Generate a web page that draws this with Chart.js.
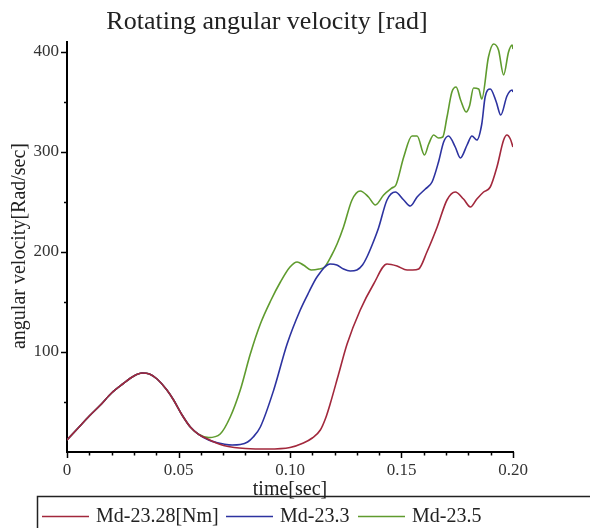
<!DOCTYPE html>
<html>
<head>
<meta charset="utf-8">
<script src="https://cdn.jsdelivr.net/npm/chart.js@4/dist/chart.umd.min.js"></script>
<style>
  html, body { margin: 0; padding: 0; background: #fff; }
  #wrap { width: 590px; height: 528px; }
</style>
</head>
<body>
<div id="wrap"><canvas id="SpeedChart" width="590" height="528"></canvas></div>
<script>
(function () {
  "use strict";

  // Colors
  const c_red   = '#a2283c';
  const c_blue  = '#2d33a0';
  const c_green = '#5f9b2e';
  const c_ink   = '#222222';
  const serif   = '"Liberation Serif", "DejaVu Serif", serif';

  // Data: time [sec] and angular velocity [Rad/sec] per torque setting
  const tRed = [0, 0.005, 0.01, 0.015, 0.02, 0.025, 0.03, 0.0336, 0.037, 0.0404, 0.0448, 0.0478, 0.0516, 0.0553, 0.059,
    0.0635, 0.067, 0.0702, 0.075, 0.08, 0.09, 0.1, 0.106, 0.11, 0.1136, 0.116, 0.118, 0.1218, 0.1256, 0.1315, 0.1375,
    0.1435, 0.148, 0.1525, 0.155, 0.1577, 0.1614, 0.166, 0.1704, 0.1741, 0.1778, 0.1809, 0.1838, 0.1868, 0.1898,
    0.1928, 0.1958, 0.1973, 0.1988, 0.2];
  const vRed = [12, 24, 36, 47, 59, 68, 76, 79, 78, 73, 62, 52, 37, 25, 17.7,
    12.5, 9, 6.5, 4.5, 3.5, 3, 4.5, 9, 14, 22, 34, 48, 78, 108, 142, 168,
    188, 186, 182, 182, 183, 200, 225, 252, 260, 253, 245, 253, 260, 265,
    285, 312, 317, 313, 305];

  const tBlue = [0, 0.005, 0.01, 0.015, 0.02, 0.025, 0.03, 0.0336, 0.037, 0.0404, 0.0448, 0.0478, 0.0516, 0.0553, 0.059,
    0.0635, 0.067, 0.0702, 0.074, 0.0777, 0.081, 0.0835, 0.0867, 0.0927, 0.0987, 0.1046, 0.1085, 0.1121, 0.118, 0.121,
    0.124, 0.127, 0.13, 0.1325, 0.1345, 0.137, 0.1397, 0.1435, 0.1472, 0.151, 0.154, 0.157, 0.1607, 0.1637, 0.1666,
    0.1689, 0.1711, 0.1741, 0.1764, 0.1794, 0.1816, 0.1838, 0.186, 0.1875, 0.1898, 0.1925, 0.1945, 0.1973, 0.1996, 0.2];
  const vBlue = [12, 24, 36, 47, 59, 68, 76, 79, 78, 73, 62, 52, 37, 25, 17.7,
    12, 9.5, 8, 7, 7.5, 10, 15, 25, 62, 108, 142, 160, 175, 188, 187,
    183, 181, 182, 187, 195, 208, 224, 252, 260, 252, 246, 255, 263, 270, 290,
    310, 316, 305, 294, 307, 316, 312, 328, 355, 363, 350, 337, 356, 362, 360];

  const tGreen = [0, 0.005, 0.01, 0.015, 0.02, 0.025, 0.03, 0.0336, 0.037, 0.0404, 0.0448, 0.0478, 0.0516, 0.0553, 0.059,
    0.0635, 0.0687, 0.0732, 0.0777, 0.0822, 0.0867, 0.0915, 0.0957, 0.1, 0.1032, 0.106, 0.1095, 0.113, 0.1155, 0.1185,
    0.1211, 0.124, 0.1278, 0.1315, 0.1352, 0.1383, 0.142, 0.1457, 0.1475, 0.151, 0.1547, 0.157, 0.1603, 0.1622, 0.1644,
    0.1666, 0.1685, 0.1704, 0.1726, 0.1745, 0.1765, 0.179, 0.1805, 0.1823, 0.1846, 0.186, 0.189, 0.1913, 0.1935, 0.1958,
    0.198, 0.1996, 0.2];
  const vGreen = [12, 24, 36, 47, 59, 68, 76, 79, 78, 73, 62, 52, 37, 25, 17.7,
    14.4, 18, 35, 62, 98, 128, 152, 170, 185, 190, 187, 182, 183, 185, 196,
    208, 225, 252, 261, 255, 247, 257, 264, 267, 295, 316, 316, 297, 308, 317,
    314, 315, 335, 360, 365, 352, 340, 346, 364, 363, 353, 395, 408, 402, 377,
    400, 407, 403];

  const seriesLabels = ['Md-23.28[Nm]', 'Md-23.3', 'Md-23.5'];
  const xTickLabels = ['0', '0.05', '0.10', '0.15', '0.20'];
  const yTickLabels = ['100', '200', '300', '400'];

  function toPoints(ts, vs) {
    return ts.map(function (t, i) { return { x: t, y: vs[i] }; });
  }

  // Title, axis titles, tick marks and framed legend (Maple style)
  const decorations = {
    id: 'decorations',
    afterDraw: function (chart) {
      const ctx = chart.ctx;
      const xs = chart.scales.x;
      const ys = chart.scales.y;
      const area = chart.chartArea;
      ctx.save();

      // tick marks
      ctx.strokeStyle = '#000';
      ctx.lineWidth = 1.5;
      xs.ticks.forEach(function (tk) {
        const k = Math.round(tk.value * 100);
        const px = Math.round(xs.getPixelForValue(tk.value)) + 0.5;
        const len = (k % 5 === 0) ? 6 : 3.5;
        ctx.beginPath();
        ctx.moveTo(px, area.bottom);
        ctx.lineTo(px, area.bottom + len);
        ctx.stroke();
      });
      ys.ticks.forEach(function (tk) {
        if (tk.value === 0) return;
        const py = Math.round(ys.getPixelForValue(tk.value)) + 0.5;
        const len = (tk.value % 100 === 0) ? 6 : 3;
        ctx.beginPath();
        ctx.moveTo(area.left - len, py);
        ctx.lineTo(area.left, py);
        ctx.stroke();
      });

      // title
      ctx.fillStyle = c_ink;
      ctx.font = '26px ' + serif;
      ctx.textAlign = 'center';
      ctx.textBaseline = 'middle';
      ctx.fillText('Rotating angular velocity [rad]', 267, 22);

      // axis titles
      ctx.font = '20px ' + serif;
      ctx.fillText('time[sec]', 290, 490);
      ctx.save();
      ctx.translate(20, 246);
      ctx.rotate(-Math.PI / 2);
      ctx.fillText('angular velocity[Rad/sec]', 0, 0);
      ctx.restore();

      // legend frame
      ctx.strokeStyle = c_ink;
      ctx.lineWidth = 1.5;
      ctx.strokeRect(37.5, 496.5, 600, 60);

      const colors = [c_red, c_blue, c_green];
      const lineX = [42, 226, 358];
      ctx.textAlign = 'left';
      ctx.font = '20px ' + serif;
      seriesLabels.forEach(function (lbl, i) {
        ctx.strokeStyle = colors[i];
        ctx.lineWidth = 1.6;
        ctx.beginPath();
        ctx.moveTo(lineX[i], 516.5);
        ctx.lineTo(lineX[i] + 47, 516.5);
        ctx.stroke();
        ctx.fillStyle = c_ink;
        ctx.fillText(lbl, lineX[i] + 54, 517);
      });
      ctx.restore();
    }
  };

  const el = document.getElementById('SpeedChart');
  const ctx = el.getContext('2d');

  function mkSet(label, color, ts, vs) {
    return {
      label: label,
      data: toPoints(ts, vs),
      borderColor: color,
      backgroundColor: color,
      borderWidth: 1.6,
      pointRadius: 0,
      fill: false,
      cubicInterpolationMode: 'monotone'
    };
  }

  new Chart(ctx, {
    type: 'line',
    data: {
      datasets: [
        mkSet(seriesLabels[0], c_red, tRed, vRed),
        mkSet(seriesLabels[1], c_blue, tBlue, vBlue),
        mkSet(seriesLabels[2], c_green, tGreen, vGreen)
      ]
    },
    options: {
      responsive: false,
      animation: false,
      devicePixelRatio: 1,
      layout: { padding: { top: 42, right: 77, left: 0, bottom: 0 } },
      scales: {
        x: {
          type: 'linear',
          min: 0,
          max: 0.2,
          afterFit: function (s) { s.height = 76; },
          grid: { display: false, drawTicks: false },
          border: { display: true, color: '#000', width: 2 },
          ticks: {
            stepSize: 0.01,
            autoSkip: false,
            maxRotation: 0,
            padding: 8,
            color: '#333',
            font: { family: serif, size: 17 },
            callback: function (v) {
              const k = Math.round(v * 100);
              return (k % 5 === 0) ? xTickLabels[k / 5] : '';
            }
          }
        },
        y: {
          min: 0,
          max: 410,
          afterFit: function (s) { s.width = 67; },
          afterBuildTicks: function (s) {
            const list = [];
            for (let v = 0; v <= 400; v += 50) list.push({ value: v });
            s.ticks = list;
          },
          grid: { display: false, drawTicks: false },
          border: { display: true, color: '#000', width: 2 },
          ticks: {
            autoSkip: false,
            padding: 8,
            color: '#333',
            font: { family: serif, size: 17 },
            callback: function (v) {
              if (v === 0 || v % 100 !== 0) return '';
              return yTickLabels[v / 100 - 1];
            }
          }
        }
      },
      plugins: {
        legend: { display: false },
        tooltip: { enabled: false }
      }
    },
    plugins: [decorations]
  });

})();
</script>
</body>
</html>
